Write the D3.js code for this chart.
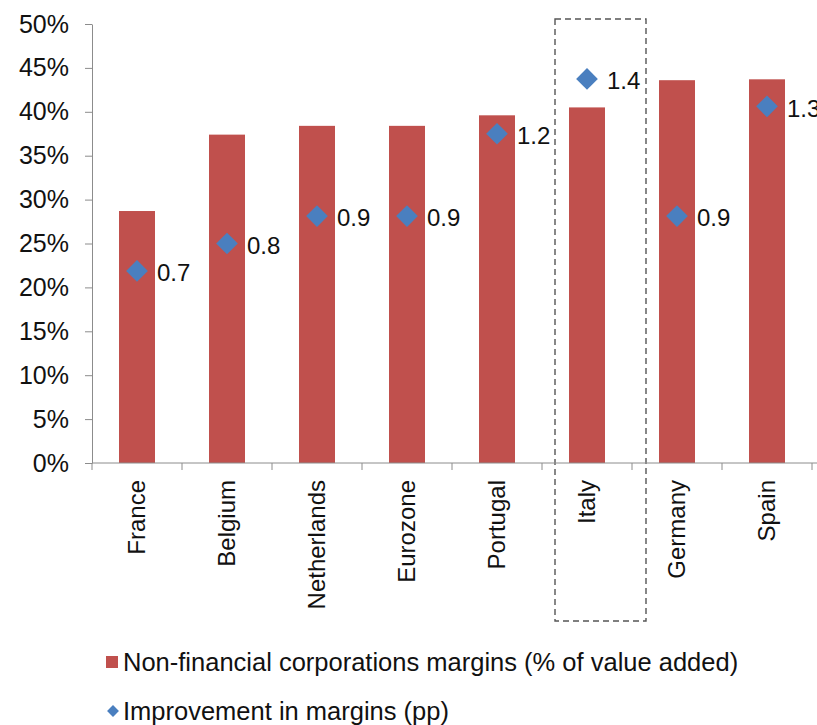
<!DOCTYPE html>
<meta charset="utf-8">
<body style="margin:0;background:#fff">
<svg width="817" height="725"></svg>
</body>
<style>
    text { font-family: "Liberation Sans", Arial, sans-serif; fill: #111; }
    .axis .domain, .axis line { stroke: #8c8c8c; }
</style>
<script src="https://cdnjs.cloudflare.com/ajax/libs/d3/7.8.5/d3.min.js"></script>
<script>
    // data
    var countries = ["France", "Belgium", "Netherlands", "Eurozone", "Portugal", "Italy", "Germany", "Spain"];
    var margins = [28.7, 37.4, 38.4, 38.4, 39.6, 40.5, 43.6, 43.7];      // % of value added
    var improvement = [0.7, 0.8, 0.9, 0.9, 1.2, 1.4, 0.9, 1.3];         // pp
    var yTicks = [0, 5, 10, 15, 20, 25, 30, 35, 40, 45, 50];
    var legendLabels = ["Non-financial corporations margins (% of value added)", "Improvement in margins (pp)"];
    var highlight = "Italy";

    var barColor = "#c0504d", dotColor = "#4a7fbf";

    var svg = d3.select("svg"),
        plotLeft = 92, plotRight = 812, plotTop = 24, plotBottom = 463;

    var x = d3.scaleBand()
        .domain(countries)
        .range([plotLeft, plotRight])
        .paddingInner(0.6)
        .paddingOuter(0.3);

    var y = d3.scaleLinear().domain([0, 50]).range([plotBottom, plotTop]);
    // hidden secondary axis for the diamonds
    var y2 = d3.scaleLinear().domain([0, 1.6]).range([plotBottom, plotTop]);

    var step = x.step();
    var cx = function(d) { return x(d) + x.bandwidth() / 2; };

    // dashed box around the highlighted country
    var hx = x(highlight) - step * 0.3;
    svg.append("rect")
        .attr("x", hx + 13)
        .attr("y", 19)
        .attr("width", step + 1)
        .attr("height", 602)
        .attr("fill", "none")
        .attr("stroke", "#555")
        .attr("stroke-width", 1.4)
        .attr("stroke-dasharray", "6,4");

    // bars
    svg.append("g")
        .selectAll("rect")
        .data(countries)
        .enter().append("rect")
        .attr("x", function(d) { return x(d); })
        .attr("y", function(d, i) { return y(margins[i]); })
        .attr("width", x.bandwidth())
        .attr("height", function(d, i) { return plotBottom - y(margins[i]); })
        .attr("fill", barColor);

    // y axis
    svg.append("g")
        .attr("class", "axis")
        .attr("transform", "translate(" + plotLeft + ",0)")
        .call(d3.axisLeft(y).tickValues(yTicks).tickSize(7).tickSizeOuter(0).tickPadding(16)
            .tickFormat(function(d) { return d + "%"; }))
        .selectAll("text")
        .attr("font-size", 25)
        .style("font-family", '"Liberation Sans", Arial, sans-serif')
        .attr("fill", "#111");

    // x axis line, ticks at band edges
    var xg = svg.append("g").attr("class", "axis");
    xg.append("line")
        .attr("x1", plotLeft).attr("x2", 817)
        .attr("y1", plotBottom).attr("y2", plotBottom);
    xg.selectAll(".edge")
        .data(d3.range(countries.length + 1))
        .enter().append("line")
        .attr("class", "edge")
        .attr("x1", function(i) { return plotLeft + i * step; })
        .attr("x2", function(i) { return plotLeft + i * step; })
        .attr("y1", plotBottom).attr("y2", plotBottom + 7);

    // rotated category labels
    svg.append("g")
        .selectAll("text")
        .data(countries)
        .enter().append("text")
        .attr("transform", function(d) { return "translate(" + cx(d) + "," + plotBottom + ") rotate(-90)"; })
        .attr("x", -17)
        .attr("dy", "0.35em")
        .attr("text-anchor", "end")
        .attr("font-size", 24)
        .text(function(d) { return d; });

    // diamonds
    var diamond = d3.symbol().type(d3.symbolDiamond2).size(300);
    var dots = svg.append("g")
        .selectAll("g")
        .data(countries)
        .enter().append("g")
        .attr("transform", function(d, i) { return "translate(" + cx(d) + "," + y2(improvement[i]) + ")"; });

    dots.append("path")
        .attr("d", diamond)
        .attr("fill", dotColor);

    dots.append("text")
        .attr("x", 20)
        .attr("y", 2)
        .attr("dy", "0.35em")
        .attr("font-size", 24)
        .text(function(d, i) { return improvement[i].toFixed(1); });

    // legend
    var legend = svg.append("g");
    legend.append("rect")
        .attr("x", 106).attr("y", 656)
        .attr("width", 12).attr("height", 12)
        .attr("fill", barColor);
    legend.append("path")
        .attr("transform", "translate(113,711)")
        .attr("d", d3.symbol().type(d3.symbolDiamond2).size(90))
        .attr("fill", dotColor);
    legend.selectAll("text")
        .data(legendLabels)
        .enter().append("text")
        .attr("x", 123)
        .attr("y", function(d, i) { return 662 + i * 49; })
        .attr("dy", "0.35em")
        .attr("font-size", 25.5)
        .text(function(d) { return d; });
</script>
